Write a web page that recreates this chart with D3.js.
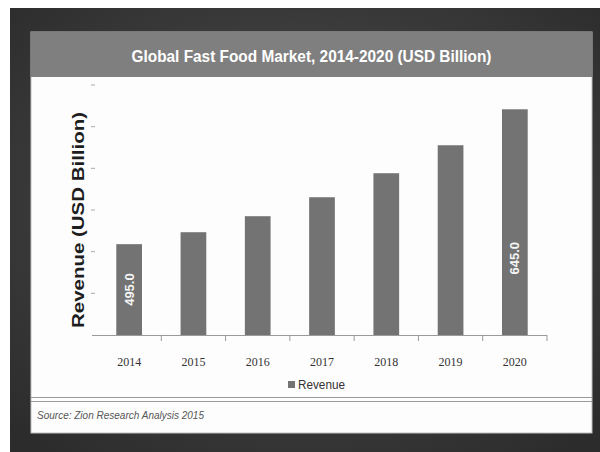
<!DOCTYPE html>
<meta charset="utf-8">
<style>
body { margin: 0; background: #fff; }
svg { display: block; }
</style>
<body>
<script src="https://cdn.jsdelivr.net/npm/d3@7"></script>
<script>
var years = ["2014", "2015", "2016", "2017", "2018", "2019", "2020"],
    revenue = [495.0, 508.3, 526.1, 547.2, 573.9, 605.0, 645.0],
    shownLabels = {"2014": 0.5, "2020": 0.34},   // which bars carry a value label, and where along the bar
    yDomain = [394, 672],
    yTickCount = 6,
    title = "Global Fast Food Market, 2014-2020 (USD Billion)",
    yTitle = "Revenue (USD Billion)",
    seriesName = "Revenue",
    source = "Source: Zion Research Analysis 2015";

var width = 600, height = 452;

var svg = d3.select("body").append("svg")
    .attr("width", width)
    .attr("height", height);

// dark backdrop with a lighter middle
var grad = svg.append("defs").append("radialGradient")
    .attr("id", "bg")
    .attr("cx", "50%").attr("cy", "45%").attr("r", "70%");
grad.append("stop").attr("offset", "0%").attr("stop-color", "#505050");
grad.append("stop").attr("offset", "100%").attr("stop-color", "#2c2c2c");

svg.append("rect")
    .attr("x", 10).attr("y", 8)
    .attr("width", width - 10).attr("height", height - 8)
    .attr("fill", "url(#bg)");

// white card
var card = {x: 31, y: 32, w: 561, h: 401};
svg.append("rect")
    .attr("x", card.x).attr("y", card.y)
    .attr("width", card.w).attr("height", card.h)
    .attr("fill", "#fdfdfd")
    .attr("stroke", "#bdbdbd");

// title bar
svg.append("rect")
    .attr("x", card.x).attr("y", card.y)
    .attr("width", card.w).attr("height", 45)
    .attr("fill", "#7f7f7f");

svg.append("text")
    .attr("x", card.x + card.w / 2)
    .attr("y", 62)
    .attr("text-anchor", "middle")
    .attr("fill", "#fff")
    .attr("font-family", "Liberation Sans, Arial, sans-serif")
    .attr("font-weight", "bold")
    .attr("font-size", 16)
    .attr("textLength", 360)
    .attr("lengthAdjust", "spacingAndGlyphs")
    .text(title);

// plot
var x = d3.scaleBand()
    .domain(years)
    .range([97, 547]);

var y = d3.scaleLinear()
    .domain(yDomain)
    .range([335, 85]);

var barW = x.bandwidth() * 0.4;

// y ticks (no labels)
var yTicks = d3.range(yTickCount + 1).map(function(i) {
    return yDomain[0] + i * (yDomain[1] - yDomain[0]) / yTickCount; });
svg.append("g").selectAll("line")
    .data(yTicks.slice(1))
    .enter()
    .append("line")
    .attr("x1", 91).attr("x2", 95)
    .attr("y1", function(d) { return y(d); })
    .attr("y2", function(d) { return y(d); })
    .attr("stroke", "#aaa");

// bars
svg.append("g").selectAll("rect")
    .data(revenue)
    .enter()
    .append("rect")
    .attr("x", function(d, i) { return x(years[i]) + (x.bandwidth() - barW) / 2; })
    .attr("y", function(d) { return y(d); })
    .attr("width", barW)
    .attr("height", function(d) { return y(yDomain[0]) - y(d); })
    .attr("fill", "#737373");

// value labels inside bars
svg.append("g").selectAll("text")
    .data(revenue.map(function(d, i) { return [years[i], d]; })
        .filter(function(d) { return d[0] in shownLabels; }))
    .enter()
    .append("text")
    .attr("transform", function(d) {
        var cx = x(d[0]) + x.bandwidth() / 2,
            base = y(yDomain[0]),
            cy = base - (base - y(d[1])) * shownLabels[d[0]];
        return "translate(" + (cx + 4.5) + "," + cy + ") rotate(-90)"; })
    .attr("text-anchor", "middle")
    .attr("fill", "#f4f4f4")
    .attr("font-family", "Liberation Sans, Arial, sans-serif")
    .attr("font-weight", "bold")
    .attr("font-size", 13)
    .text(function(d) { return d[1].toFixed(1); });

// x axis
var xAxis = svg.append("g");
xAxis.append("line")
    .attr("x1", 92).attr("x2", 547)
    .attr("y1", 335.5).attr("y2", 335.5)
    .attr("stroke", "#9a9a9a");
xAxis.selectAll("line.tick")
    .data(years.slice(1).concat(["end"]))
    .enter()
    .append("line")
    .attr("class", "tick")
    .attr("x1", function(d, i) { return x(years[0]) + (i + 1) * x.step(); })
    .attr("x2", function(d, i) { return x(years[0]) + (i + 1) * x.step(); })
    .attr("y1", 335).attr("y2", 341)
    .attr("stroke", "#9a9a9a");
xAxis.selectAll("text")
    .data(years)
    .enter()
    .append("text")
    .attr("x", function(d) { return x(d) + x.bandwidth() / 2; })
    .attr("y", 366)
    .attr("text-anchor", "middle")
    .attr("fill", "#333")
    .attr("font-family", "Liberation Serif, serif")
    .attr("font-size", 12)
    .text(Object);

// y title
svg.append("text")
    .attr("transform", "translate(84,220) rotate(-90)")
    .attr("text-anchor", "middle")
    .attr("fill", "#1e1e1e")
    .attr("font-family", "Liberation Sans, Arial, sans-serif")
    .attr("font-weight", "bold")
    .attr("font-size", 16)
    .attr("textLength", 216)
    .attr("lengthAdjust", "spacingAndGlyphs")
    .text(yTitle);

// legend
svg.append("rect")
    .attr("x", 288).attr("y", 381)
    .attr("width", 7).attr("height", 7)
    .attr("fill", "#737373");
svg.append("text")
    .attr("x", 298).attr("y", 389)
    .attr("fill", "#333")
    .attr("font-family", "Liberation Sans, Arial, sans-serif")
    .attr("font-size", 12)
    .attr("textLength", 47)
    .attr("lengthAdjust", "spacingAndGlyphs")
    .text(seriesName);

// double rule above the source line
svg.append("g").selectAll("line")
    .data([397.5, 401.5])
    .enter()
    .append("line")
    .attr("x1", card.x).attr("x2", card.x + card.w)
    .attr("y1", Number).attr("y2", Number)
    .attr("stroke", "#9a9a9a");

svg.append("text")
    .attr("x", 37).attr("y", 419)
    .attr("fill", "#555")
    .attr("font-family", "Liberation Sans, Arial, sans-serif")
    .attr("font-style", "italic")
    .attr("font-size", 11)
    .attr("textLength", 167)
    .attr("lengthAdjust", "spacingAndGlyphs")
    .text(source);
</script>
</body>
